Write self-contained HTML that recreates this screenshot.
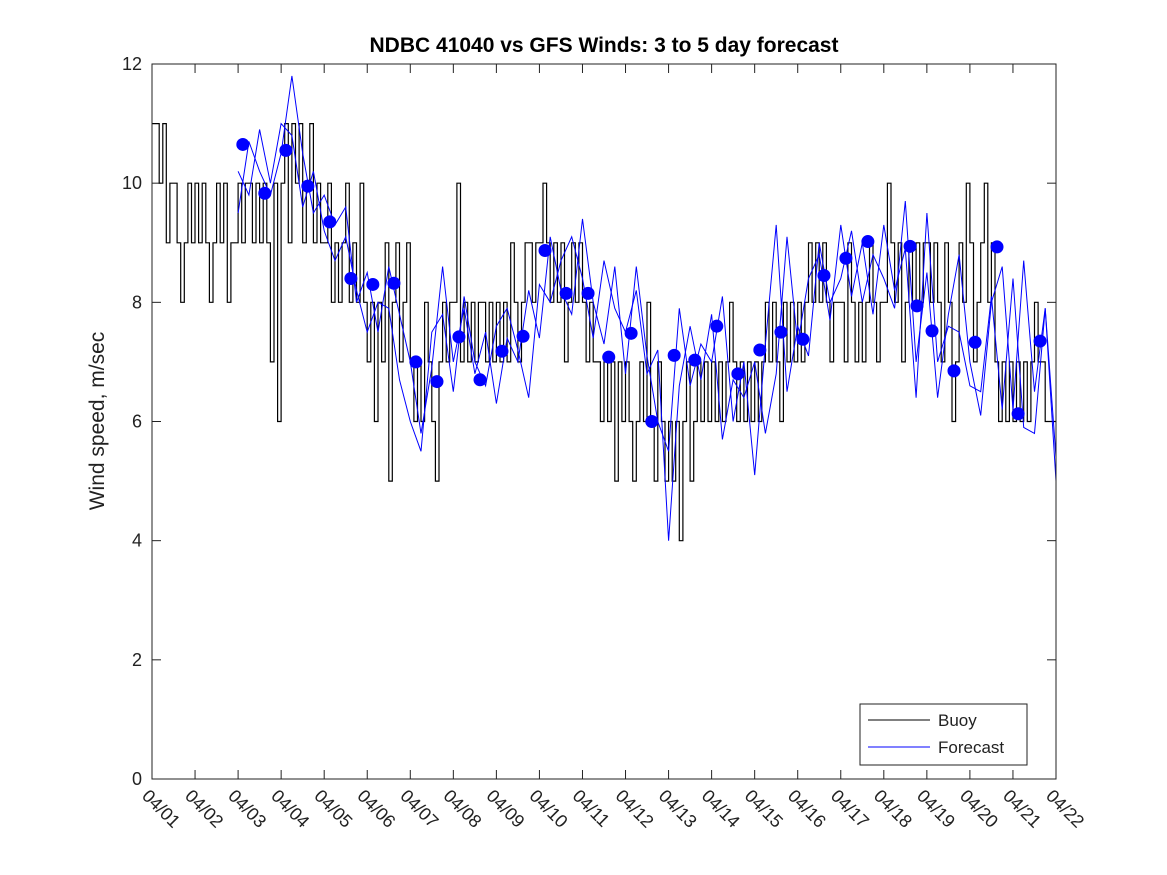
<!DOCTYPE html>
<html><head><meta charset="utf-8"><style>
body{margin:0;background:#fff;}
svg{display:block;font-family:"Liberation Sans",sans-serif;}
</style></head><body>
<svg id="c" width="1167" height="875">
<rect x="0" y="0" width="1167" height="875" fill="#fff"/>
<text x="604" y="52" text-anchor="middle" font-size="21" font-weight="bold">NDBC 41040 vs GFS Winds: 3 to 5 day forecast</text>
<text transform="translate(104,421) rotate(-90)" text-anchor="middle" font-size="21" fill="#222">Wind speed, m/sec</text>
<g id="plot"></g>
<rect x="152" y="64" width="904" height="715" fill="none" stroke="#222" stroke-width="1"/>
<g>
<rect x="860" y="704" width="167" height="61" fill="#fff" stroke="#222"/>
<line x1="868" y1="720" x2="930" y2="720" stroke="#000"/>
<text x="938" y="726" font-size="17" fill="#222">Buoy</text>
<line x1="868" y1="747" x2="930" y2="747" stroke="#00f"/>
<text x="938" y="753" font-size="17" fill="#222">Forecast</text>
</g>
</svg>
<script>
const xTickLabels=["04/01","04/02","04/03","04/04","04/05","04/06","04/07","04/08","04/09","04/10","04/11","04/12","04/13","04/14","04/15","04/16","04/17","04/18","04/19","04/20","04/21","04/22"];
const yTicks=[0,2,4,6,8,10,12];
const buoy=[11,11,10,11,9,10,10,9,8,9,10,9,
10,9,10,9,8,9,10,9,10,8,9,9,
10,9,10,10,9,10,9,10,9,7,10,6,
10,11,9,11,10,11,9,10,11,9,10,9,
9,10,8,9,8,9,10,8,9,8,10,8,
7,8,6,8,7,9,5,8,9,7,8,9,
7,6,7,6,8,7,6,5,7,8,7,8,
8,10,7,8,7,8,7,8,8,7,8,7,
8,7,8,7,9,8,7,8,9,9,8,9,
9,10,9,8,9,8,9,7,8,9,8,9,
8,7,8,7,7,6,7,6,7,5,7,6,
7,6,5,6,7,6,8,6,5,7,6,5,
6,5,6,4,6,7,5,6,7,6,7,6,
7,6,7,6,7,8,7,6,7,6,7,6,
7,6,7,8,7,8,7,6,8,7,8,7,
8,7,8,9,8,9,8,9,8,7,8,8,
8,7,9,8,7,8,7,8,9,8,7,8,
8,10,9,8,9,7,8,9,8,9,8,9,
9,8,9,8,7,9,8,6,7,9,8,10,
9,7,8,9,10,8,9,7,6,7,6,7,
6,7,6,7,6,7,8,7,7,6,6,6];
const buoyStep=1/12;
const fcStart=2.0, fcStep=0.25;
const forecastA=[9.5,10.7,10.2,9.8,10.5,11.8,10.5,9.5,9.8,9.3,9.6,8.0,8.5,7.5,8.6,7.8,7.0,5.8,6.9,8.6,7.0,7.9,6.8,7.5,6.3,7.4,7.0,8.2,7.4,9.1,8.2,7.8,9.4,8.0,7.3,8.6,6.8,8.6,7.1,6.0,5.5,7.9,6.6,7.3,7.0,8.1,6.0,7.0,5.1,7.3,9.3,6.5,7.6,7.1,9.0,8.0,8.4,9.2,8.0,8.8,8.4,7.9,9.7,7.0,8.5,6.4,7.8,8.8,7.0,6.1,8.0,8.6,6.2,8.7,6.5,7.9,5.4];
const forecastB=[10.2,9.8,10.9,10.0,11.0,10.8,9.6,10.2,9.2,8.7,9.1,8.2,7.5,8.0,7.9,6.7,6.0,5.5,7.5,7.8,6.5,8.1,7.0,6.6,7.6,7.9,7.2,6.4,8.3,8.0,8.7,9.1,8.4,7.4,8.7,7.9,7.5,8.2,6.8,7.2,4.0,6.6,7.6,6.7,7.8,5.7,6.7,6.4,7.0,5.8,6.8,9.1,7.3,8.4,8.8,7.7,9.3,8.1,9.0,7.8,9.3,8.2,8.9,6.4,9.5,7.0,7.6,7.5,6.6,6.5,8.1,6.2,8.4,5.9,5.8,7.9,5.0];
const dotDays=[2.11,2.62,3.11,3.62,4.13,4.62,5.13,5.62,6.13,6.62,7.13,7.62,8.13,8.62,9.13,9.62,10.13,10.61,11.13,11.61,12.13,12.61,13.12,13.61,14.12,14.61,15.12,15.61,16.12,16.63,17.61,17.77,18.12,18.63,19.12,19.63,20.12,20.63];
const dotVals=[10.65,9.83,10.55,9.95,9.35,8.4,8.3,8.32,7.0,6.67,7.42,6.7,7.18,7.43,8.87,8.15,8.15,7.08,7.48,6.0,7.11,7.03,7.6,6.8,7.2,7.5,7.38,8.45,8.74,9.02,8.94,7.94,7.52,6.85,7.33,8.93,6.13,7.35];

const X0=152,X1=1056,Y0=779,Y1=64;
function xs(d){return X0+(X1-X0)*d/21;}
function ys(v){return Y0-(Y0-Y1)*v/12;}
const NS="http://www.w3.org/2000/svg";
const plot=document.getElementById('plot');
function mk(t,a,p){const e=document.createElementNS(NS,t);for(const k in a)e.setAttribute(k,a[k]);(p||plot).appendChild(e);return e;}

yTicks.forEach(v=>{
  const g=mk('g',{});
  
  
  mk('line',{x1:X0,x2:X0+9,y1:ys(v),y2:ys(v),stroke:'#222'},g);
  mk('line',{x1:X1-9,x2:X1,y1:ys(v),y2:ys(v),stroke:'#222'},g);
  const t=mk('text',{x:X0-10,y:ys(v)+6,'text-anchor':'end','font-size':18,fill:'#222'},g);
  t.textContent=v;
});
xTickLabels.forEach((l,i)=>{
  const g=mk('g',{});
  
  
  const x=xs(i);
  mk('line',{x1:x,x2:x,y1:Y0,y2:Y0-9,stroke:'#222'},g);
  mk('line',{x1:x,x2:x,y1:Y1,y2:Y1+9,stroke:'#222'},g);
  const t=mk('text',{transform:`translate(${x-11},${Y0+18}) rotate(45)`,'font-size':18,fill:'#222'},g);
  t.textContent=l;
});

let d='';
buoy.forEach((v,i)=>{
  const x=xs(i*buoyStep), y=ys(v);
  d+=(i?'V'+y.toFixed(1)+'H'+x.toFixed(1):'M'+x.toFixed(1)+' '+y.toFixed(1))+' ';
  d+='H'+xs((i+1)*buoyStep).toFixed(1)+' ';
});
const bl=mk('path',{d:d,fill:'none',stroke:'#000','stroke-width':1.2});



[forecastA,forecastB].forEach((arr,k)=>{
  const p=arr.map((v,i)=>(i?'L':'M')+xs(fcStart+i*fcStep).toFixed(1)+' '+ys(v).toFixed(1)).join(' ');
  const e=mk('path',{d:p,fill:'none',stroke:'#00f','stroke-width':1});
  
  
});
dotDays.forEach((dd,i)=>{
  const c=mk('circle',{cx:xs(dd),cy:ys(dotVals[i]),r:6.5,fill:'#00f'});
  
  
});
</script>
</body></html>
